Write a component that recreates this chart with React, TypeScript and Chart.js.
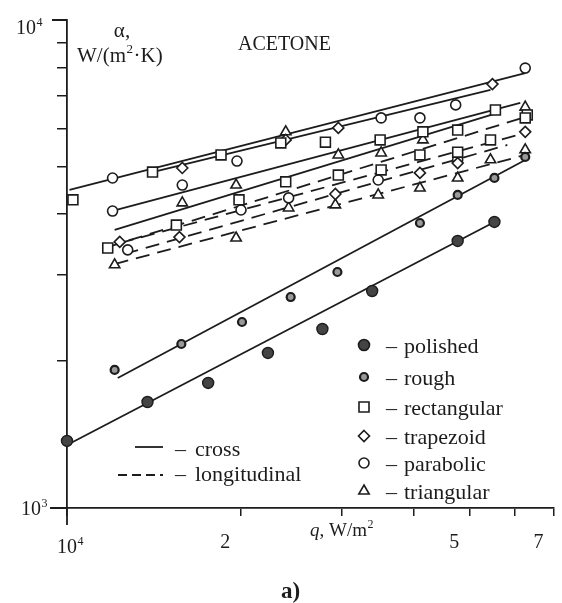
import React, { useEffect, useRef } from 'react';
import { Chart, registerables } from 'chart.js';

Chart.register(...registerables);

// ---------- axes ----------
const xTickValues = [10000, 20000, 30000, 40000, 50000, 60000, 70000];
const yTickValues = [1000, 2000, 3000, 4000, 5000, 6000, 7000, 8000, 9000, 10000];
const xLabelValues = [10000, 20000, 50000, 70000];
const xLabelBases = ['10', '2', '5', '7'];
const xLabelSups = ['4', '', '', ''];
const yLabelValues = [10000, 1000];
const yLabelBases = ['10', '10'];
const yLabelSups = ['4', '3'];

// ---------- measured points: q (W/m2) and alpha (W/(m2 K)) ----------
const polishedQ = [10000, 13800, 17590, 22340, 27780, 33900, 47730, 55290];
const polishedAlpha = [1372, 1649, 1804, 2078, 2327, 2784, 3525, 3856];
const roughQ = [12100, 15800, 20140, 24470, 29500, 41040, 47730, 55290, 62540];
const roughAlpha = [1918, 2168, 2405, 2706, 3045, 3837, 4380, 4746, 5240];
const rectangularQ = [10240, 14080, 18520, 23520, 28120, 35000, 41530, 47730, 55510, 63050, 11770, 15490, 19900, 23990, 29610, 35140, 41040, 47730, 54430, 62540];
const rectangularAlpha = [4280, 4880, 5290, 5600, 5620, 5680, 5900, 5950, 6540, 6390, 3410, 3800, 4280, 4660, 4810, 4930, 5290, 5360, 5680, 6300];
const trapezoidQ = [15860, 23990, 29610, 54850, 12350, 15680, 29260, 41040, 47730, 62540];
const trapezoidAlpha = [4975, 5680, 6010, 7390, 3510, 3590, 4400, 4860, 5090, 5900];
const parabolicQ = [12000, 12000, 15860, 19740, 35140, 41040, 47350, 62540, 12750, 20060, 24270, 34730, 47730];
const parabolicAlpha = [4745, 4060, 4590, 5140, 6300, 6300, 6700, 7970, 3380, 4080, 4320, 4700, 5170];
const triangularQ = [15860, 19670, 23990, 29610, 35140, 41530, 62540, 12100, 19670, 24270, 29260, 34730, 41040, 47730, 54430, 62540];
const triangularAlpha = [4220, 4590, 5900, 5290, 5340, 5680, 6630, 3150, 3575, 4120, 4180, 4380, 4525, 4745, 5170, 5420];

// ---------- fitted lines (start, end) ----------
const crossFitQ = [[10000, 55290], [12250, 62540], [10100, 62540], [13910, 54430], [12000, 61310], [12100, 55290]];
const crossFitAlpha = [[1346, 3856], [1847, 5167], [4484, 7787], [4859, 7188], [4061, 6760], [3713, 6419]];
const longFitQ = [[11770, 62540], [12350, 62540], [12590, 58220], [12100, 62540]];
const longFitAlpha = [[3426, 6329], [3491, 5868], [3315, 5545], [3162, 5290]];

// ---------- legend ----------
const markerNames = ['polished', 'rough', 'rectangular', 'trapezoid', 'parabolic', 'triangular'];
const lineStyleNames = ['cross', 'longitudinal'];

const INK = '#1c1c1c';
const SERIF = '"Liberation Serif", "Times New Roman", Times, serif';

function toPts(qs: number[], as: number[]) {
  return qs.map((q, i) => ({ x: q, y: as[i] }));
}

function drawSup(ctx: CanvasRenderingContext2D, base: string, sup: string, x: number, y: number, size: number, align: 'left' | 'center' | 'right', italic = false) {
  ctx.font = `${italic ? 'italic ' : ''}${size}px ${SERIF}`;
  const wb = ctx.measureText(base).width;
  const ss = Math.round(size * 0.62);
  ctx.font = `${ss}px ${SERIF}`;
  const ws = sup ? ctx.measureText(sup).width : 0;
  let left = x;
  if (align === 'center') left = x - wb / 2;
  if (align === 'right') left = x - wb - ws;
  ctx.textAlign = 'left';
  ctx.font = `${italic ? 'italic ' : ''}${size}px ${SERIF}`;
  ctx.fillText(base, left, y);
  if (sup) {
    ctx.font = `${ss}px ${SERIF}`;
    ctx.fillText(sup, left + wb + 0.5, y - size * 0.42);
  }
  return left + wb + ws;
}

function drawMarker(ctx: CanvasRenderingContext2D, kind: string, x: number, y: number) {
  ctx.save();
  ctx.lineWidth = 1.6;
  ctx.strokeStyle = INK;
  ctx.fillStyle = '#fff';
  ctx.beginPath();
  if (kind === 'polished') {
    ctx.arc(x, y, 5.5, 0, Math.PI * 2);
    ctx.fillStyle = '#444';
  } else if (kind === 'rough') {
    ctx.lineWidth = 2.2;
    ctx.arc(x, y, 4, 0, Math.PI * 2);
    ctx.fillStyle = '#9a9a9a';
  } else if (kind === 'rectangular') {
    ctx.rect(x - 5, y - 5, 10, 10);
  } else if (kind === 'trapezoid') {
    ctx.moveTo(x, y - 5.5); ctx.lineTo(x + 5.5, y); ctx.lineTo(x, y + 5.5); ctx.lineTo(x - 5.5, y); ctx.closePath();
  } else if (kind === 'parabolic') {
    ctx.arc(x, y, 5, 0, Math.PI * 2);
  } else {
    const r = 6;
    ctx.moveTo(x, y - r);
    ctx.lineTo(x + r * Math.sin(2 * Math.PI / 3), y - r * Math.cos(2 * Math.PI / 3));
    ctx.lineTo(x + r * Math.sin(4 * Math.PI / 3), y - r * Math.cos(4 * Math.PI / 3));
    ctx.closePath();
  }
  ctx.fill();
  ctx.stroke();
  ctx.restore();
}

export default function App() {
  const ref = useRef<HTMLCanvasElement>(null);

  useEffect(() => {
    const canvas = ref.current!;

    const lineDs = (q: number[], a: number[], dashed: boolean) => ({
      type: 'line' as const,
      data: toPts(q, a),
      borderColor: INK,
      borderWidth: 1.8,
      borderDash: dashed ? [14, 8] : [],
      pointRadius: 0,
      pointHoverRadius: 0,
      fill: false,
      clip: false as any,
      order: 1,
    });
    const markerDs = (label: string, q: number[], a: number[], style: any, radius: number, bg: string, bw: number) => ({
      type: 'scatter' as const,
      label,
      data: toPts(q, a),
      showLine: false,
      pointStyle: style,
      pointRadius: radius,
      pointHoverRadius: radius,
      pointBackgroundColor: bg,
      pointBorderColor: INK,
      pointBorderWidth: bw,
      clip: false as any,
      order: 0,
    });

    const datasets: any[] = [
      ...crossFitQ.map((q, i) => lineDs(q, crossFitAlpha[i], false)),
      ...longFitQ.map((q, i) => lineDs(q, longFitAlpha[i], true)),
      markerDs(markerNames[0], polishedQ, polishedAlpha, 'circle', 5.5, '#444', 1.4),
      markerDs(markerNames[1], roughQ, roughAlpha, 'circle', 4, '#9a9a9a', 2.2),
      markerDs(markerNames[2], rectangularQ, rectangularAlpha, 'rect', 7, '#fff', 1.6),
      markerDs(markerNames[3], trapezoidQ, trapezoidAlpha, 'rectRot', 5.5, '#fff', 1.6),
      markerDs(markerNames[4], parabolicQ, parabolicAlpha, 'circle', 5, '#fff', 1.6),
      markerDs(markerNames[5], triangularQ, triangularAlpha, 'triangle', 6, '#fff', 1.6),
    ];

    const annot = {
      id: 'annot',
      beforeDraw(chart: any) {
        const c = chart.ctx;
        c.save();
        c.fillStyle = '#fff';
        c.fillRect(0, 0, chart.width, chart.height);
        c.restore();
      },
      afterDraw(chart: any) {
        const ctx: CanvasRenderingContext2D = chart.ctx;
        const xs = chart.scales.x;
        const ys = chart.scales.y;
        const ca = chart.chartArea;
        ctx.save();
        ctx.strokeStyle = INK;
        ctx.fillStyle = INK;
        ctx.lineWidth = 1.8;
        ctx.textBaseline = 'alphabetic';

        // longer major ticks at the corners
        ctx.beginPath();
        ctx.moveTo(ca.left, ca.bottom); ctx.lineTo(ca.left, ca.bottom + 17);
        ctx.moveTo(ca.left, ca.bottom); ctx.lineTo(ca.left - 17, ca.bottom);
        ctx.moveTo(ca.left, ca.top); ctx.lineTo(ca.left - 15, ca.top);
        ctx.stroke();

        // x tick labels
        xLabelValues.forEach((v, i) => {
          const px = xs.getPixelForValue(v);
          const cx = i === 0 ? px : px - 15;
          drawSup(ctx, xLabelBases[i], xLabelSups[i], cx, ca.bottom + (i === 0 ? 45 : 40), 20, 'center');
        });
        // y tick labels
        yLabelValues.forEach((v, i) => {
          const py = ys.getPixelForValue(v);
          const right = i === 0 ? ca.left - 25 : ca.left - 20;
          drawSup(ctx, yLabelBases[i], yLabelSups[i], right, py + (i === 0 ? 14 : 7), 20, 'right');
        });

        // x axis title
        let xx = drawSup(ctx, 'q', '', 310, ca.bottom + 28, 19, 'left', true);
        drawSup(ctx, ', W/m', '2', xx, ca.bottom + 28, 19, 'left');

        // y axis title
        ctx.font = `21px ${SERIF}`;
        ctx.textAlign = 'center';
        ctx.fillText('α,', 122, 37);
        let yx = drawSup(ctx, 'W/(m', '2', 77, 62, 21, 'left');
        ctx.font = `21px ${SERIF}`;
        ctx.textAlign = 'left';
        ctx.fillText('·K)', yx + 1, 62);

        // fluid name
        ctx.font = `20px ${SERIF}`;
        ctx.fillText('ACETONE', 238, 50);

        // marker legend
        const rowsY = [345, 377, 407, 436, 463, 491];
        markerNames.forEach((n, i) => {
          drawMarker(ctx, n, 364, rowsY[i]);
          ctx.font = `22px ${SERIF}`;
          ctx.textAlign = 'left';
          ctx.fillStyle = INK;
          ctx.fillText('–', 386, rowsY[i] + 8);
          ctx.fillText(n, 404, rowsY[i] + 8);
        });

        // line style legend
        ctx.lineWidth = 1.8;
        ctx.beginPath();
        ctx.moveTo(135, 447); ctx.lineTo(163, 447);
        ctx.stroke();
        ctx.setLineDash([9, 5]);
        ctx.beginPath();
        ctx.moveTo(118, 475); ctx.lineTo(163, 475);
        ctx.stroke();
        ctx.setLineDash([]);
        ctx.font = `22px ${SERIF}`;
        ctx.fillText('–', 175, 456);
        ctx.fillText(lineStyleNames[0], 195, 456);
        ctx.fillText('–', 175, 481);
        ctx.fillText(lineStyleNames[1], 195, 481);

        // panel label
        ctx.font = `bold 23px ${SERIF}`;
        ctx.fillText('a)', 281, 598);
        ctx.restore();
      },
    };

    const chart = new Chart(canvas, {
      type: 'scatter',
      data: { datasets },
      options: {
        animation: false,
        responsive: false,
        maintainAspectRatio: false,
        events: [],
        layout: { padding: { top: 20, right: 5, left: 0, bottom: 0 } },
        plugins: { legend: { display: false }, tooltip: { enabled: false }, title: { display: false } },
        scales: {
          x: {
            type: 'logarithmic',
            position: 'bottom',
            min: 10000,
            max: 70000,
            grid: { drawOnChartArea: false, drawTicks: true, tickLength: 8, color: INK, lineWidth: 1.5 },
            border: { display: true, color: INK, width: 1.8 },
            ticks: { display: false },
            afterBuildTicks: (s: any) => { s.ticks = xTickValues.map((v) => ({ value: v })); },
            afterFit: (s: any) => { s.height = 95; },
          },
          y: {
            type: 'logarithmic',
            position: 'left',
            min: 1000,
            max: 10000,
            grid: { drawOnChartArea: false, drawTicks: true, tickLength: 10, color: INK, lineWidth: 1.5 },
            border: { display: true, color: INK, width: 1.8 },
            ticks: { display: false },
            afterBuildTicks: (s: any) => { s.ticks = yTickValues.map((v) => ({ value: v })); },
            afterFit: (s: any) => { s.width = 67; },
          },
        },
      } as any,
      plugins: [annot],
    });

    return () => chart.destroy();
  }, []);

  return (
    <div style={{ position: 'absolute', left: 0, top: 0, width: 562, height: 603, background: '#fff' }}>
      <canvas ref={ref} width={562} height={603} style={{ display: 'block', width: 562, height: 603 }} />
    </div>
  );
}
